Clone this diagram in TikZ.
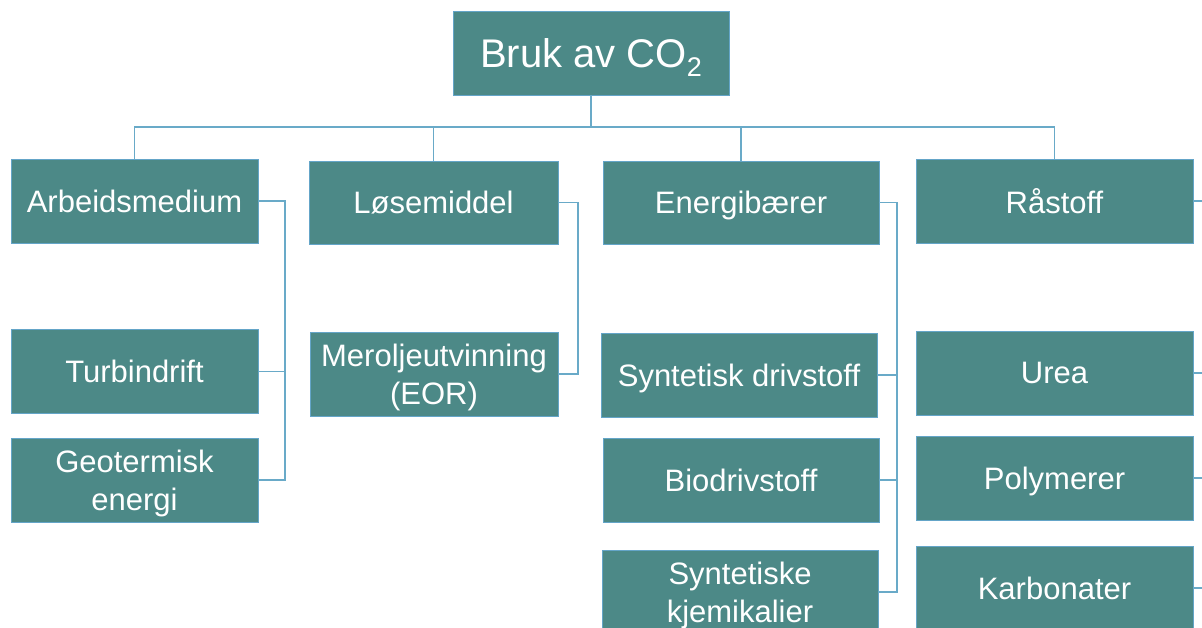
\documentclass[tikz,border=0pt]{standalone}
\usepackage{fontspec}
\setmainfont{Liberation Sans}
\usetikzlibrary{positioning}
\definecolor{boxfill}{RGB}{76,137,135}
\definecolor{boxline}{RGB}{100,165,200}
\definecolor{linkline}{RGB}{105,170,200}

\begin{document}
\begin{tikzpicture}[x=1pt,y=-1pt]
	\tikzstyle{base}=[rectangle,draw=boxline,line width=0.8pt,fill=boxfill,text=white,inner sep=0pt,align=center,minimum height=84pt,text depth=0pt]
	\tikzstyle{root}=[base,minimum width=276pt,font=\fontsize{40}{48}\selectfont]
	\tikzstyle{smal}=[base,minimum width=247pt,font=\fontsize{31}{38}\selectfont]
	\tikzstyle{bred}=[base,minimum width=277pt,font=\fontsize{31}{38}\selectfont]
	\tikzstyle{link}=[draw=linkline,line width=1.4pt]
	\useasboundingbox (0,0) rectangle (1202,628);
	\clip (0,0) rectangle (1202,628);
	% toppen
	\node[root] (top) at (591,53){Bruk av CO\raisebox{-0.22em}[0pt][0pt]{\fontsize{27}{27}\selectfont 2}};
	% hovedgrupper
	\node[smal] (arb) at (134.5,201){Arbeidsmedium};
	\node[smal,minimum width=249pt,minimum height=83pt] (los) at (433.5,202.5){L\o semiddel};
	\node[bred,minimum width=276pt,minimum height=83pt] (ene) at (741,202.5){Energibærer};
	\node[bred] (ras) at (1054.5,201){Råstoff};
	% undergrupper
	\node[smal] (turb) at (134.5,371.5){Turbindrift};
	\node[smal] (geo) at (134.5,480){Geotermisk\\energi};
	\node[smal,minimum width=248pt] (eor) at (434,374){Meroljeutvinning\\(EOR)};
	\node[bred,minimum width=276pt] (syd) at (739,375){Syntetisk drivstoff};
	\node[bred,minimum width=276pt] (bio) at (741,480){Biodrivstoff};
	\node[bred,minimum width=276pt] (syk) at (740,592){Syntetiske\\kjemikalier};
	\node[bred] (urea) at (1054.5,373){Urea};
	\node[bred] (poly) at (1054.5,478){Polymerer};
	\node[bred] (karb) at (1054.5,588){Karbonater};
	% linjer
	\coordinate (bus) at (591,127);
	\draw[link] (top.south) -- (bus) -| (arb.north);
	\draw[link] (bus) -| (los.north);
	\draw[link] (bus) -| (ene.north);
	\draw[link] (bus) -| (ras.north);
	\coordinate (arbv) at (285,201);
	\draw[link] (arb.east) -- (arbv) |- (geo.east);
	\draw[link] (turb.east) -- (turb.east -| arbv);
	\coordinate (losv) at (578,202.5);
	\draw[link] (los.east) -- (losv) |- (eor.east);
	\coordinate (enev) at (897,202.5);
	\draw[link] (ene.east) -- (enev) |- (syk.east);
	\draw[link] (syd.east) -- (syd.east -| enev);
	\draw[link] (bio.east) -- (bio.east -| enev);
	\coordinate (rasv) at (1212,201);
	\draw[link] (ras.east) -- (rasv) |- (karb.east);
	\draw[link] (urea.east) -- (urea.east -| rasv);
	\draw[link] (poly.east) -- (poly.east -| rasv);
\end{tikzpicture}
\end{document}
